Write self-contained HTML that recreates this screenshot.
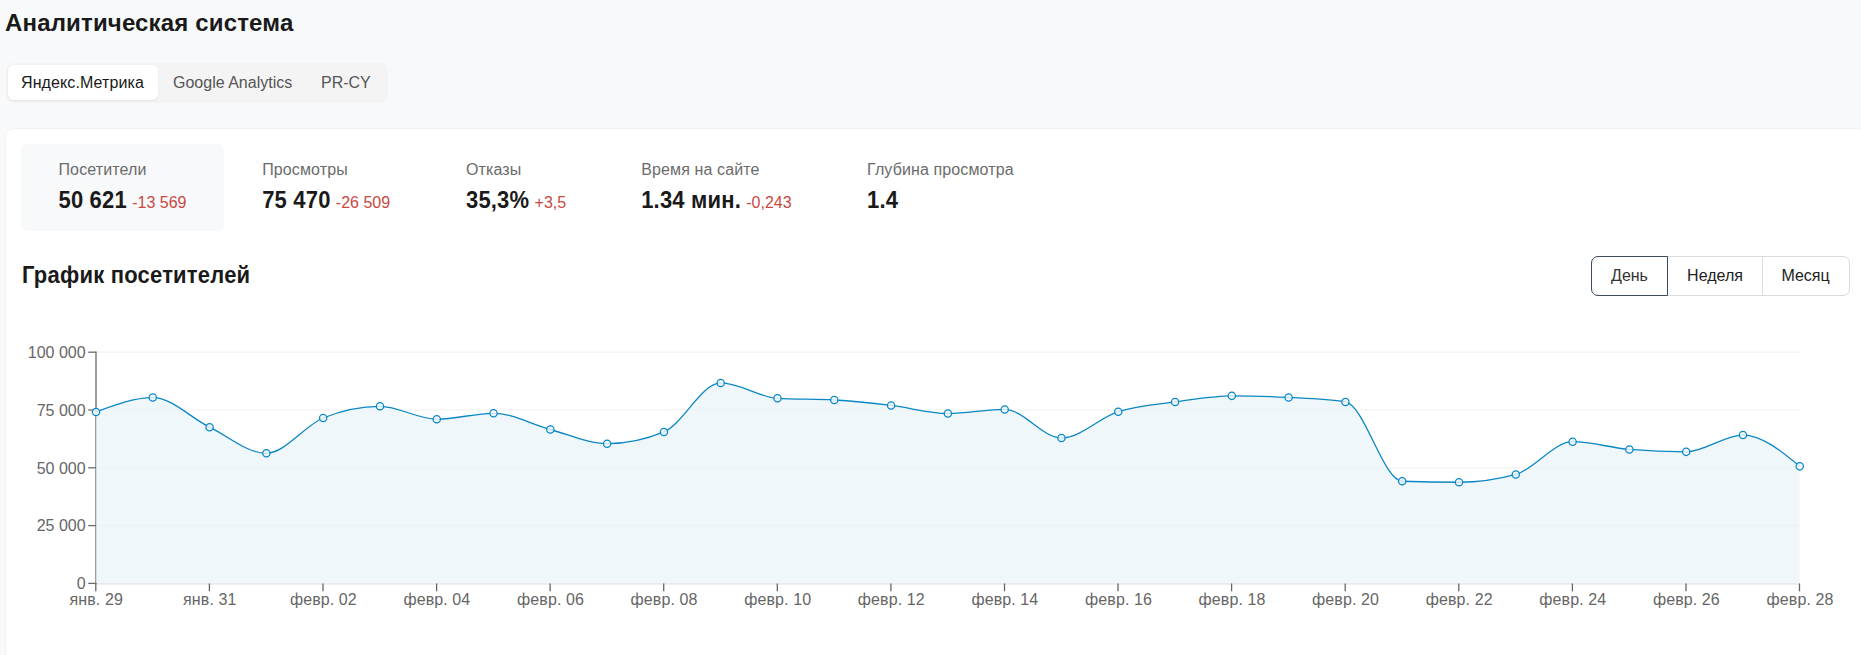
<!DOCTYPE html>
<html lang="ru"><head><meta charset="utf-8"><title>Аналитическая система</title>
<style>
*{box-sizing:border-box;margin:0;padding:0}
html,body{width:1861px;height:655px;overflow:hidden;background:#f8f9fa;font-family:"Liberation Sans",sans-serif;color:#1a1a1a}
body{position:relative}
.abs{position:absolute;white-space:nowrap}
h1{position:absolute;left:5px;top:9px;font-size:24px;line-height:28px;font-weight:700;letter-spacing:.16px;color:#1a1a1a;white-space:nowrap}
.seg{position:absolute;left:6px;top:63px;width:382px;height:40px;background:#f4f4f5;border-radius:8px}
.seg .ind{position:absolute;left:2px;top:2px;width:150px;height:35px;background:#fff;border-radius:6px;box-shadow:0 1px 2px rgba(0,0,0,.08)}
.seg span{position:absolute;top:0;height:40px;line-height:40px;font-size:16px;color:#555;white-space:nowrap}
.seg span.a{color:#1a1a1a;letter-spacing:.1px}
.card{position:absolute;left:6px;top:129px;width:1860px;height:560px;background:#fff;border-radius:8px;box-shadow:0 0 0 1px rgba(0,0,0,.028)}
.sbox{position:absolute;left:21px;top:144px;width:203px;height:87px;background:#f8f9fa;border-radius:6px}
.lbl{font-size:16px;line-height:20px;color:#6b6b6b;letter-spacing:.12px}
.val{font-size:22px;line-height:28px;font-weight:700;color:#1a1a1a;letter-spacing:.18px}
.val b{display:inline-block;font-weight:700;transform:scaleY(1.10);transform-origin:0 21.3px}
.val small{font-size:16px;font-weight:400;color:#c9483f;letter-spacing:0;margin-left:-1px}
h2{position:absolute;left:22px;top:263px;font-size:22px;line-height:26px;font-weight:700;letter-spacing:.21px;transform:scaleY(1.06);transform-origin:0 20.5px;color:#1a1a1a;white-space:nowrap}
.bg{position:absolute;left:1591px;top:256px;height:40px;width:259px;border:1px solid #dadada;border-radius:7px;background:#fff}
.bg div{position:absolute;top:-1px;height:40px;line-height:37px;font-size:16px;text-align:center;color:#222;border:1px solid transparent}
.bg .b1{left:-1px;width:77px;border:1px solid #3d4b5f;border-radius:7px 0 0 7px;color:#333}
.bg .b2{left:75px;width:96px;border-right:1px solid #dadada}
.bg .b3{left:170px;width:87px}
svg.chart{position:absolute;left:0;top:0}
.ay{letter-spacing:0 !important}
.ax{font-family:"Liberation Sans",sans-serif;font-size:16px;fill:#666;letter-spacing:.1px}
</style></head><body>
<h1>Аналитическая система</h1>
<div class="seg"><div class="ind"></div>
<span class="a" style="left:15px">Яндекс.Метрика</span><span style="left:167px">Google Analytics</span><span style="left:315px">PR-CY</span></div>
<div class="card"></div>
<div class="sbox"></div>
<div class="abs lbl" style="left:58.5px;top:160px">Посетители</div><div class="abs val" style="left:58.5px;top:186.5px"><b>50 621</b> <small>-13 569</small></div>
<div class="abs lbl" style="left:262.2px;top:160px">Просмотры</div><div class="abs val" style="left:262.2px;top:186.5px"><b>75 470</b> <small>-26 509</small></div>
<div class="abs lbl" style="left:466.0px;top:160px">Отказы</div><div class="abs val" style="left:466.0px;top:186.5px"><b>35,3%</b> <small>+3,5</small></div>
<div class="abs lbl" style="left:641.2px;top:160px">Время на сайте</div><div class="abs val" style="left:641.2px;top:186.5px"><b>1.34 мин.</b> <small>-0,243</small></div>
<div class="abs lbl" style="left:867.0px;top:160px">Глубина просмотра</div><div class="abs val" style="left:867.0px;top:186.5px"><b>1.4</b></div>

<h2>График посетителей</h2>
<div class="bg"><div class="b1">День</div><div class="b2">Неделя</div><div class="b3">Месяц</div></div>
<svg class="chart" width="1861" height="655" viewBox="0 0 1861 655">
<line x1="96" x2="1800" y1="352.2" y2="352.2" stroke="#f4f4f4" stroke-width="1.5"/>
<line x1="96" x2="1800" y1="410.0" y2="410.0" stroke="#f4f4f4" stroke-width="1.5"/>
<line x1="96" x2="1800" y1="467.8" y2="467.8" stroke="#f4f4f4" stroke-width="1.5"/>
<line x1="96" x2="1800" y1="525.6" y2="525.6" stroke="#f4f4f4" stroke-width="1.5"/>
<line x1="96" x2="1800" y1="583.9" y2="583.9" stroke="#eaeaea" stroke-width="1.7"/>
<line x1="96" x2="96" y1="351.5" y2="583.9" stroke="#7c7c7c" stroke-width="1.5"/>
<line x1="88.2" x2="96" y1="352.2" y2="352.2" stroke="#6b6b6b" stroke-width="1.3"/>
<text x="85.6" y="357.9" text-anchor="end" class="ax ay">100 000</text>
<line x1="88.2" x2="96" y1="410.0" y2="410.0" stroke="#6b6b6b" stroke-width="1.3"/>
<text x="85.6" y="415.7" text-anchor="end" class="ax ay">75 000</text>
<line x1="88.2" x2="96" y1="467.8" y2="467.8" stroke="#6b6b6b" stroke-width="1.3"/>
<text x="85.6" y="473.5" text-anchor="end" class="ax ay">50 000</text>
<line x1="88.2" x2="96" y1="525.6" y2="525.6" stroke="#6b6b6b" stroke-width="1.3"/>
<text x="85.6" y="531.3" text-anchor="end" class="ax ay">25 000</text>
<line x1="88.2" x2="96" y1="583.4" y2="583.4" stroke="#6b6b6b" stroke-width="1.3"/>
<text x="85.6" y="589.1" text-anchor="end" class="ax ay">0</text>
<line x1="95.8" x2="95.8" y1="583.5" y2="591.3" stroke="#666" stroke-width="1.3"/>
<text x="96.2" y="604.5" text-anchor="middle" class="ax">янв. 29</text>
<line x1="209.4" x2="209.4" y1="583.5" y2="591.3" stroke="#666" stroke-width="1.3"/>
<text x="209.8" y="604.5" text-anchor="middle" class="ax">янв. 31</text>
<line x1="323.0" x2="323.0" y1="583.5" y2="591.3" stroke="#666" stroke-width="1.3"/>
<text x="323.4" y="604.5" text-anchor="middle" class="ax">февр. 02</text>
<line x1="436.6" x2="436.6" y1="583.5" y2="591.3" stroke="#666" stroke-width="1.3"/>
<text x="436.9" y="604.5" text-anchor="middle" class="ax">февр. 04</text>
<line x1="550.1" x2="550.1" y1="583.5" y2="591.3" stroke="#666" stroke-width="1.3"/>
<text x="550.5" y="604.5" text-anchor="middle" class="ax">февр. 06</text>
<line x1="663.7" x2="663.7" y1="583.5" y2="591.3" stroke="#666" stroke-width="1.3"/>
<text x="664.1" y="604.5" text-anchor="middle" class="ax">февр. 08</text>
<line x1="777.3" x2="777.3" y1="583.5" y2="591.3" stroke="#666" stroke-width="1.3"/>
<text x="777.7" y="604.5" text-anchor="middle" class="ax">февр. 10</text>
<line x1="890.9" x2="890.9" y1="583.5" y2="591.3" stroke="#666" stroke-width="1.3"/>
<text x="891.3" y="604.5" text-anchor="middle" class="ax">февр. 12</text>
<line x1="1004.5" x2="1004.5" y1="583.5" y2="591.3" stroke="#666" stroke-width="1.3"/>
<text x="1004.9" y="604.5" text-anchor="middle" class="ax">февр. 14</text>
<line x1="1118.0" x2="1118.0" y1="583.5" y2="591.3" stroke="#666" stroke-width="1.3"/>
<text x="1118.5" y="604.5" text-anchor="middle" class="ax">февр. 16</text>
<line x1="1231.6" x2="1231.6" y1="583.5" y2="591.3" stroke="#666" stroke-width="1.3"/>
<text x="1232.0" y="604.5" text-anchor="middle" class="ax">февр. 18</text>
<line x1="1345.2" x2="1345.2" y1="583.5" y2="591.3" stroke="#666" stroke-width="1.3"/>
<text x="1345.6" y="604.5" text-anchor="middle" class="ax">февр. 20</text>
<line x1="1458.8" x2="1458.8" y1="583.5" y2="591.3" stroke="#666" stroke-width="1.3"/>
<text x="1459.2" y="604.5" text-anchor="middle" class="ax">февр. 22</text>
<line x1="1572.4" x2="1572.4" y1="583.5" y2="591.3" stroke="#666" stroke-width="1.3"/>
<text x="1572.8" y="604.5" text-anchor="middle" class="ax">февр. 24</text>
<line x1="1686.0" x2="1686.0" y1="583.5" y2="591.3" stroke="#666" stroke-width="1.3"/>
<text x="1686.4" y="604.5" text-anchor="middle" class="ax">февр. 26</text>
<line x1="1799.5" x2="1799.5" y1="583.5" y2="591.3" stroke="#666" stroke-width="1.3"/>
<text x="1800.0" y="604.5" text-anchor="middle" class="ax">февр. 28</text>
<path d="M96.00,411.95C114.93,404.75,133.86,397.55,152.79,397.55C171.72,397.55,190.65,417.87,209.58,427.15C228.51,436.43,247.44,453.25,266.38,453.25C285.31,453.25,304.24,425.80,323.17,418.00C342.10,410.20,361.03,406.30,379.96,406.30C398.89,406.30,417.82,419.20,436.75,419.20C455.68,419.20,474.61,413.30,493.54,413.30C512.47,413.30,531.40,424.43,550.33,429.50C569.26,434.57,588.19,443.70,607.12,443.70C626.06,443.70,644.99,439.77,663.92,431.90C682.85,424.03,701.78,382.90,720.71,382.90C739.64,382.90,758.57,397.17,777.50,398.30C796.43,399.43,815.36,398.87,834.29,400.00C853.22,401.13,872.15,403.15,891.08,405.40C910.01,407.65,928.94,413.50,947.88,413.50C966.81,413.50,985.74,409.40,1004.67,409.40C1023.60,409.40,1042.53,438.00,1061.46,438.00C1080.39,438.00,1099.32,417.72,1118.25,411.70C1137.18,405.68,1156.11,404.54,1175.04,401.90C1193.97,399.26,1212.90,395.85,1231.83,395.85C1250.76,395.85,1269.69,396.44,1288.62,397.45C1307.56,398.46,1326.49,398.93,1345.42,401.90C1364.35,404.87,1383.28,480.58,1402.21,481.25C1421.14,481.92,1440.07,482.25,1459.00,482.25C1477.93,482.25,1496.86,479.63,1515.79,474.40C1534.72,469.17,1553.65,441.70,1572.58,441.70C1591.51,441.70,1610.44,447.77,1629.38,449.40C1648.31,451.03,1667.24,451.85,1686.17,451.85C1705.10,451.85,1724.03,435.05,1742.96,435.05C1761.89,435.05,1780.82,450.70,1799.75,466.35L1799.75,583.10L96.00,583.10Z" fill="#e9f4fa" fill-opacity="0.72" stroke="none"/>
<path d="M96.00,411.95C114.93,404.75,133.86,397.55,152.79,397.55C171.72,397.55,190.65,417.87,209.58,427.15C228.51,436.43,247.44,453.25,266.38,453.25C285.31,453.25,304.24,425.80,323.17,418.00C342.10,410.20,361.03,406.30,379.96,406.30C398.89,406.30,417.82,419.20,436.75,419.20C455.68,419.20,474.61,413.30,493.54,413.30C512.47,413.30,531.40,424.43,550.33,429.50C569.26,434.57,588.19,443.70,607.12,443.70C626.06,443.70,644.99,439.77,663.92,431.90C682.85,424.03,701.78,382.90,720.71,382.90C739.64,382.90,758.57,397.17,777.50,398.30C796.43,399.43,815.36,398.87,834.29,400.00C853.22,401.13,872.15,403.15,891.08,405.40C910.01,407.65,928.94,413.50,947.88,413.50C966.81,413.50,985.74,409.40,1004.67,409.40C1023.60,409.40,1042.53,438.00,1061.46,438.00C1080.39,438.00,1099.32,417.72,1118.25,411.70C1137.18,405.68,1156.11,404.54,1175.04,401.90C1193.97,399.26,1212.90,395.85,1231.83,395.85C1250.76,395.85,1269.69,396.44,1288.62,397.45C1307.56,398.46,1326.49,398.93,1345.42,401.90C1364.35,404.87,1383.28,480.58,1402.21,481.25C1421.14,481.92,1440.07,482.25,1459.00,482.25C1477.93,482.25,1496.86,479.63,1515.79,474.40C1534.72,469.17,1553.65,441.70,1572.58,441.70C1591.51,441.70,1610.44,447.77,1629.38,449.40C1648.31,451.03,1667.24,451.85,1686.17,451.85C1705.10,451.85,1724.03,435.05,1742.96,435.05C1761.89,435.05,1780.82,450.70,1799.75,466.35" fill="none" stroke="#0a87c4" stroke-width="1.3"/>
<circle cx="96.00" cy="411.95" r="3.65" fill="#f2f8fc" fill-opacity="0.82" stroke="#0a87c4" stroke-width="1.25"/>
<circle cx="152.79" cy="397.55" r="3.65" fill="#f2f8fc" fill-opacity="0.82" stroke="#0a87c4" stroke-width="1.25"/>
<circle cx="209.58" cy="427.15" r="3.65" fill="#f2f8fc" fill-opacity="0.82" stroke="#0a87c4" stroke-width="1.25"/>
<circle cx="266.38" cy="453.25" r="3.65" fill="#f2f8fc" fill-opacity="0.82" stroke="#0a87c4" stroke-width="1.25"/>
<circle cx="323.17" cy="418.00" r="3.65" fill="#f2f8fc" fill-opacity="0.82" stroke="#0a87c4" stroke-width="1.25"/>
<circle cx="379.96" cy="406.30" r="3.65" fill="#f2f8fc" fill-opacity="0.82" stroke="#0a87c4" stroke-width="1.25"/>
<circle cx="436.75" cy="419.20" r="3.65" fill="#f2f8fc" fill-opacity="0.82" stroke="#0a87c4" stroke-width="1.25"/>
<circle cx="493.54" cy="413.30" r="3.65" fill="#f2f8fc" fill-opacity="0.82" stroke="#0a87c4" stroke-width="1.25"/>
<circle cx="550.33" cy="429.50" r="3.65" fill="#f2f8fc" fill-opacity="0.82" stroke="#0a87c4" stroke-width="1.25"/>
<circle cx="607.12" cy="443.70" r="3.65" fill="#f2f8fc" fill-opacity="0.82" stroke="#0a87c4" stroke-width="1.25"/>
<circle cx="663.92" cy="431.90" r="3.65" fill="#f2f8fc" fill-opacity="0.82" stroke="#0a87c4" stroke-width="1.25"/>
<circle cx="720.71" cy="382.90" r="3.65" fill="#f2f8fc" fill-opacity="0.82" stroke="#0a87c4" stroke-width="1.25"/>
<circle cx="777.50" cy="398.30" r="3.65" fill="#f2f8fc" fill-opacity="0.82" stroke="#0a87c4" stroke-width="1.25"/>
<circle cx="834.29" cy="400.00" r="3.65" fill="#f2f8fc" fill-opacity="0.82" stroke="#0a87c4" stroke-width="1.25"/>
<circle cx="891.08" cy="405.40" r="3.65" fill="#f2f8fc" fill-opacity="0.82" stroke="#0a87c4" stroke-width="1.25"/>
<circle cx="947.88" cy="413.50" r="3.65" fill="#f2f8fc" fill-opacity="0.82" stroke="#0a87c4" stroke-width="1.25"/>
<circle cx="1004.67" cy="409.40" r="3.65" fill="#f2f8fc" fill-opacity="0.82" stroke="#0a87c4" stroke-width="1.25"/>
<circle cx="1061.46" cy="438.00" r="3.65" fill="#f2f8fc" fill-opacity="0.82" stroke="#0a87c4" stroke-width="1.25"/>
<circle cx="1118.25" cy="411.70" r="3.65" fill="#f2f8fc" fill-opacity="0.82" stroke="#0a87c4" stroke-width="1.25"/>
<circle cx="1175.04" cy="401.90" r="3.65" fill="#f2f8fc" fill-opacity="0.82" stroke="#0a87c4" stroke-width="1.25"/>
<circle cx="1231.83" cy="395.85" r="3.65" fill="#f2f8fc" fill-opacity="0.82" stroke="#0a87c4" stroke-width="1.25"/>
<circle cx="1288.62" cy="397.45" r="3.65" fill="#f2f8fc" fill-opacity="0.82" stroke="#0a87c4" stroke-width="1.25"/>
<circle cx="1345.42" cy="401.90" r="3.65" fill="#f2f8fc" fill-opacity="0.82" stroke="#0a87c4" stroke-width="1.25"/>
<circle cx="1402.21" cy="481.25" r="3.65" fill="#f2f8fc" fill-opacity="0.82" stroke="#0a87c4" stroke-width="1.25"/>
<circle cx="1459.00" cy="482.25" r="3.65" fill="#f2f8fc" fill-opacity="0.82" stroke="#0a87c4" stroke-width="1.25"/>
<circle cx="1515.79" cy="474.40" r="3.65" fill="#f2f8fc" fill-opacity="0.82" stroke="#0a87c4" stroke-width="1.25"/>
<circle cx="1572.58" cy="441.70" r="3.65" fill="#f2f8fc" fill-opacity="0.82" stroke="#0a87c4" stroke-width="1.25"/>
<circle cx="1629.38" cy="449.40" r="3.65" fill="#f2f8fc" fill-opacity="0.82" stroke="#0a87c4" stroke-width="1.25"/>
<circle cx="1686.17" cy="451.85" r="3.65" fill="#f2f8fc" fill-opacity="0.82" stroke="#0a87c4" stroke-width="1.25"/>
<circle cx="1742.96" cy="435.05" r="3.65" fill="#f2f8fc" fill-opacity="0.82" stroke="#0a87c4" stroke-width="1.25"/>
<circle cx="1799.75" cy="466.35" r="3.65" fill="#f2f8fc" fill-opacity="0.82" stroke="#0a87c4" stroke-width="1.25"/>
</svg>
</body></html>
